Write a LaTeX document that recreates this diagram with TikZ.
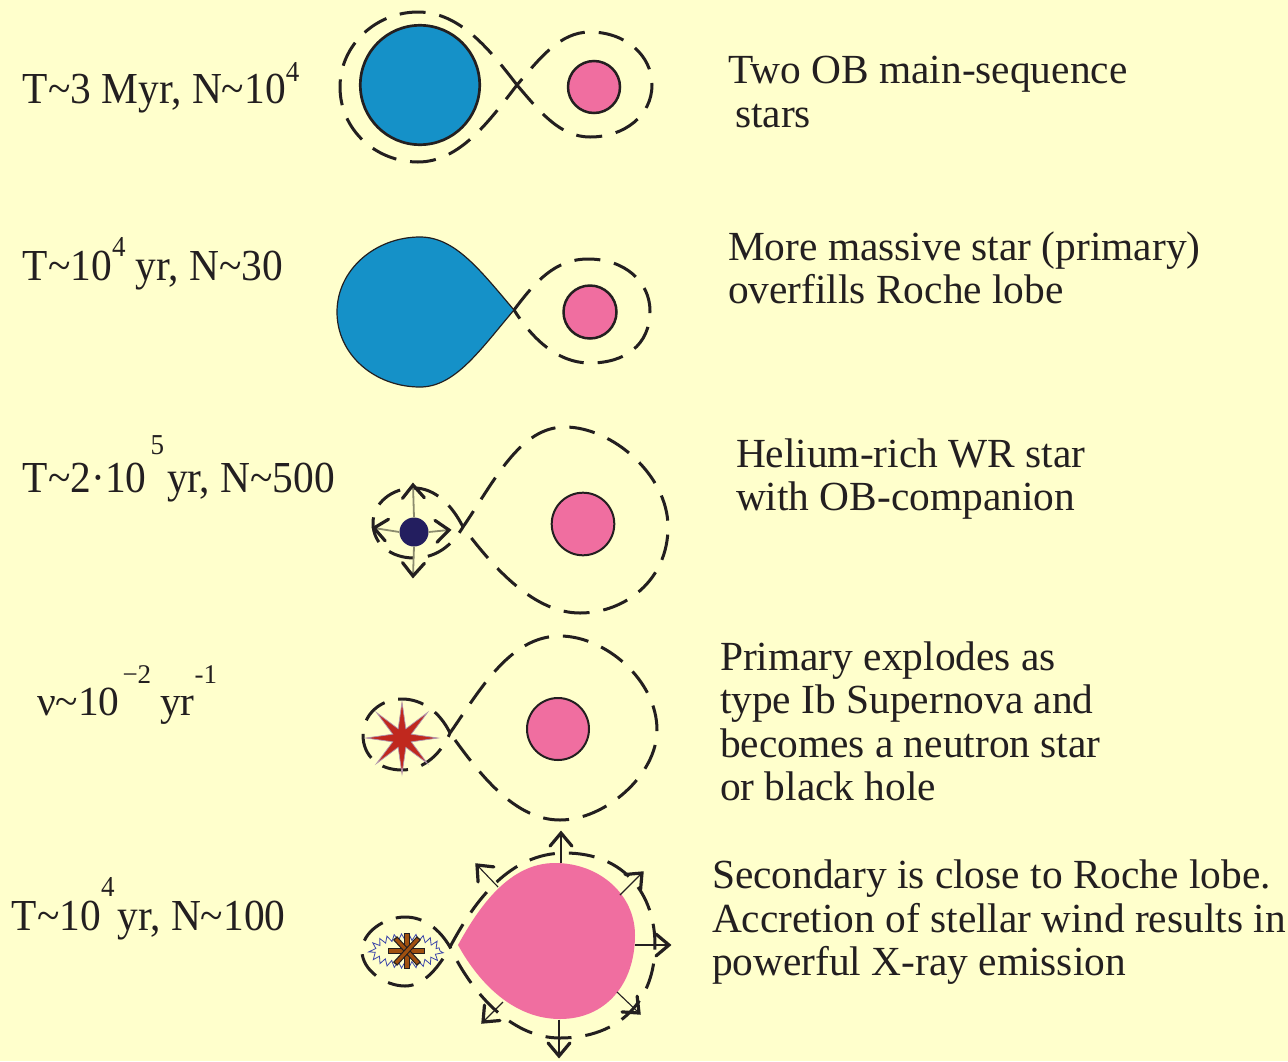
\documentclass[tikz,border=0pt]{standalone}
\usepackage{fontspec}
\setmainfont{Liberation Serif}
\usetikzlibrary{calc,shapes.geometric,decorations.pathmorphing}

\definecolor{bg}{RGB}{255,255,204}
\definecolor{ink}{RGB}{35,31,32}
\definecolor{obblue}{RGB}{21,145,200}
\definecolor{obpink}{RGB}{240,110,160}
\definecolor{wrnavy}{RGB}{35,30,95}
\definecolor{snred}{RGB}{192,40,30}
\definecolor{snglow}{RGB}{175,150,175}
\definecolor{nsbrown}{RGB}{160,80,15}
\definecolor{xblue}{RGB}{60,70,170}
\definecolor{windgray}{RGB}{140,140,110}

\newcommand{\supA}{\fontsize{27}{27}\selectfont}
\newcommand{\tall}[1]{\scalebox{1}[1.07]{#1}}
% open V head at #1, pointing away from #2
\newcommand{\windhead}[2]{%
  \draw[headline] ($(#1)!17pt!40:(#2)$) -- (#1) -- ($(#1)!17pt!-40:(#2)$);}

\tikzset{
  txt/.style={anchor=base west, inner sep=0pt, outer sep=0pt, text=ink,
              font=\fontsize{41.4}{43}\selectfont},
  lobe/.style={draw=ink, line width=3pt, dash pattern=on 26pt off 14pt},
  starbody/.style={circle, draw=ink, inner sep=0pt, line width=2.5pt},
  headline/.style={draw=ink, line width=3.2pt, line cap=round, line join=miter},
  wind/.style={draw=ink, line width=1.1pt},
  wrwind/.style={draw=windgray, line width=1.8pt},
  nsbar/.style={line width=5.5pt, draw=ink},
  nsfill/.style={line width=3.2pt, draw=nsbrown},
}

\begin{document}
\begin{tikzpicture}[x=1pt,y=-1pt]
\useasboundingbox (0,0) rectangle (1288,1061);
\fill[bg] (0,0) rectangle (1288,1061);

% ---------- stage 1: two main-sequence stars inside their Roche lobes
\path[lobe] (517,85) .. controls (490,50) and (460,12) .. (418,12)
  .. controls (376,12) and (340,45) .. (340,87)
  .. controls (340,130) and (376,162) .. (418,162)
  .. controls (460,162) and (490,120) .. (517,85)
  .. controls (540,58) and (560,32) .. (590,32)
  .. controls (625,32) and (652,55) .. (652,85)
  .. controls (652,115) and (625,137) .. (590,137)
  .. controls (560,137) and (540,112) .. (517,85);
\node[starbody, fill=obblue, minimum size=119.4pt, line width=2.7pt] (p1) at (420,85) {};
\node[starbody, fill=obpink, minimum size=52pt] (s1) at (594,87) {};

% ---------- stage 2: primary fills its lobe
\path[fill=obblue, draw=ink, line width=1.2pt] (514,310)
  .. controls (480,270) and (455,237) .. (420,237)
  .. controls (375,237) and (337,270) .. (337,312)
  .. controls (337,355) and (375,387) .. (420,387)
  .. controls (455,387) and (480,350) .. (514,310) -- cycle;
\path[lobe] (514,310) .. controls (535,282) and (555,259) .. (588,259)
  .. controls (625,259) and (650,282) .. (650,311)
  .. controls (650,345) and (625,363) .. (590,363)
  .. controls (555,363) and (530,335) .. (514,310);
\node[starbody, fill=obpink, minimum size=53pt] (s2) at (590,312) {};

% ---------- stage 3: WR star with wind
\path[lobe] (463,527) .. controls (452,505) and (435,488) .. (414,488)
  .. controls (392,488) and (373,503) .. (373,523)
  .. controls (373,545) and (392,558) .. (414,558)
  .. controls (437,558) and (452,545) .. (463,527)
  .. controls (495,480) and (520,427) .. (565,427)
  .. controls (612,427) and (668,475) .. (668,527)
  .. controls (668,580) and (625,613) .. (580,613)
  .. controls (535,613) and (495,570) .. (463,527);
\node[circle, fill=wrnavy, inner sep=0pt, minimum size=29pt] (wr) at (414,532) {};
\coordinate (wru) at (413,485);
\coordinate (wrl) at (374,528);
\coordinate (wrr) at (449,530);
\coordinate (wrd) at (413,576);
\foreach \t/\a in {wru/north, wrl/west, wrr/east, wrd/south} {
  \draw[wrwind] (wr.\a) -- (\t);
  \windhead{\t}{wr.\a}
}
\node[starbody, fill=obpink, minimum size=62.6pt, line width=2pt] (s3) at (583,524) {};

% ---------- stage 4: supernova
\path[lobe] (450,733) .. controls (440,712) and (422,699) .. (402,699)
  .. controls (380,699) and (363,715) .. (363,735)
  .. controls (363,757) and (380,770) .. (402,770)
  .. controls (425,770) and (442,752) .. (450,733)
  .. controls (480,690) and (510,636) .. (560,636)
  .. controls (605,636) and (657,680) .. (657,730)
  .. controls (657,775) and (605,820) .. (560,820)
  .. controls (515,820) and (480,775) .. (450,733);
\node[star, star points=8, star point ratio=3.6, minimum size=72pt, inner sep=0pt,
      fill=snred, draw=snglow, line width=0.7pt] (sn) at (402,738) {};
\node[starbody, fill=obpink, minimum size=62pt, line width=2pt] (s4) at (558,729) {};

% ---------- stage 5: wind-fed X-ray binary
\path[fill=obpink] (458,945) .. controls (480,905) and (510,863) .. (555,863)
  .. controls (600,863) and (635,895) .. (635,935)
  .. controls (635,985) and (605,1019) .. (560,1019)
  .. controls (515,1019) and (480,985) .. (458,945) -- cycle;
\path[lobe] (450,947) .. controls (440,930) and (425,917) .. (405,917)
  .. controls (385,917) and (362,932) .. (362,951)
  .. controls (362,970) and (385,986) .. (405,986)
  .. controls (425,986) and (440,965) .. (450,947)
  .. controls (475,900) and (510,853) .. (565,853)
  .. controls (625,853) and (655,895) .. (655,945)
  .. controls (655,1000) and (620,1038) .. (560,1038)
  .. controls (510,1038) and (470,990) .. (450,947);
% accretion glow and compact object
\draw[xblue, line width=0.8pt, decorate,
      decoration={zigzag, segment length=7pt, amplitude=3.2pt}]
  (406,951) ellipse [x radius=34, y radius=14];
\coordinate (ns) at (406,951);
\draw[nsbar] (388,951) -- (425,951);  \draw[nsfill] (389,951) -- (424,951);
\draw[nsbar] (407,933) -- (407,969);  \draw[nsfill] (407,934) -- (407,968);
\draw[nsbar] (395,938) -- (419,964);  \draw[nsfill] (396,939) -- (418,963);
\draw[nsbar] (395,964) -- (419,938);  \draw[nsfill] (396,963) -- (418,939);
% stellar wind from the secondary
\coordinate (w1a) at (561,863);  \coordinate (w1b) at (561,833);
\coordinate (w2a) at (498,887);  \coordinate (w2b) at (477,865);
\coordinate (w3a) at (620,895);  \coordinate (w3b) at (642,873);
\coordinate (w4a) at (635,945);  \coordinate (w4b) at (669,945);
\coordinate (w5a) at (617,992);  \coordinate (w5b) at (639,1013);
\coordinate (w6a) at (503,1002); \coordinate (w6b) at (483,1022);
\coordinate (w7a) at (559,1020); \coordinate (w7b) at (559,1056);
\foreach \i in {1,...,7} {
  \draw[wind] (w\i a) -- (w\i b);
  \windhead{w\i b}{w\i a}
}

% ---------- left column: time scales and numbers
\node[txt] (t1) at (23,103) {\tall{T\textasciitilde3 Myr, N\textasciitilde10\raisebox{20pt}{\supA 4}}};
\node[txt] (t2) at (23,280) {\tall{T\textasciitilde10\raisebox{22pt}{\supA 4} yr, N\textasciitilde30}};
\node[txt] (t3) at (23,492) {\tall{T\textasciitilde2·10\hspace{4pt}\raisebox{35pt}{\supA 5}\hspace{3pt}yr, N\textasciitilde500}};
\node[txt] (t4) at (37,715) {ν\textasciitilde10\hspace{3pt}\raisebox{32pt}{\supA −2}\hspace{9pt}yr\raisebox{32pt}{\supA -1}};
\node[txt] (t5) at (12,930) {\tall{T\textasciitilde10\raisebox{31pt}{\supA 4}\hspace{3pt}yr, N\textasciitilde100}};

% ---------- right column: descriptions
\node[txt] (d1a) at (728,83)  {Two OB main-sequence};
\node[txt] (d1b) at (735,127) {stars};
\node[txt] (d2a) at (728,260) {More massive star (primary)};
\node[txt] (d2b) at (728,303) {overfills Roche lobe};
\node[txt] (d3a) at (736,467) {Helium-rich WR star};
\node[txt] (d3b) at (736,510) {with OB-companion};
\node[txt] (d4a) at (720,670) {Primary explodes as};
\node[txt] (d4b) at (720,713) {type Ib Supernova and};
\node[txt] (d4c) at (720,757) {becomes a neutron star};
\node[txt] (d4d) at (720,800) {or black hole};
\node[txt] (d5a) at (712,888) {Secondary is close to Roche lobe.};
\node[txt] (d5b) at (712,932) {Accretion of stellar wind results in};
\node[txt] (d5c) at (712,975) {powerful X-ray emission};
\end{tikzpicture}
\end{document}
